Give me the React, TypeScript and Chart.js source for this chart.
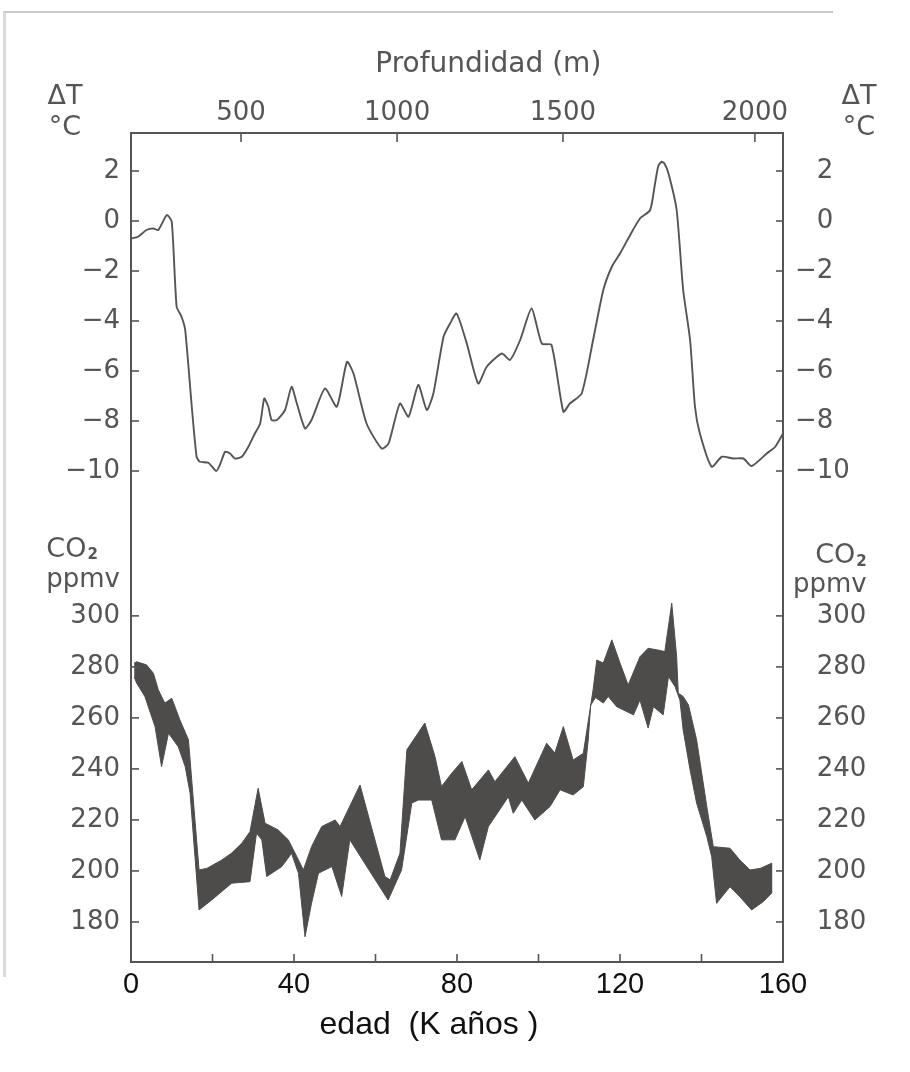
import React, { useEffect, useRef } from 'react';
import { Chart, registerables } from 'chart.js';

Chart.register(...registerables);

// ---- data (age in thousands of years) ----
const tempAge = [0, 1.7, 3.8, 5.5, 6.7, 8.8, 10.0, 11.2, 12.4, 13.3, 14.9, 16.1, 16.9, 19.0, 20.9, 21.8, 23.1, 24.3, 25.5, 27.2, 28.8, 30.4, 31.7, 32.7, 33.7, 34.5, 35.8, 37.8, 39.4, 40.7, 42.7, 44.3, 47.6, 50.5, 53.0, 54.6, 57.8, 61.5, 63.2, 66.0, 68.1, 70.5, 72.6, 74.2, 76.7, 78.3, 79.9, 82.4, 85.2, 87.3, 91.0, 93.0, 95.5, 98.3, 100.8, 103.2, 106.1, 107.7, 110.6, 113.4, 115.9, 118.0, 120.0, 122.5, 124.9, 127.4, 128.6, 129.4, 130.2, 130.9, 131.9, 133.9, 135.5, 137.2, 138.4, 139.6, 142.5, 145.0, 147.8, 150.3, 152.3, 156.0, 158.1, 160];
const tempVal = [-0.7, -0.63, -0.36, -0.3, -0.36, 0.24, -0.03, -3.43, -3.83, -4.36, -7.4, -9.43, -9.63, -9.67, -10.0, -9.76, -9.23, -9.3, -9.5, -9.43, -9.03, -8.5, -8.1, -7.1, -7.43, -7.96, -7.96, -7.56, -6.63, -7.3, -8.3, -7.96, -6.7, -7.43, -5.63, -6.1, -8.1, -9.1, -8.9, -7.3, -7.83, -6.56, -7.56, -6.9, -4.63, -4.1, -3.7, -4.9, -6.5, -5.83, -5.3, -5.56, -4.76, -3.5, -4.9, -4.96, -7.63, -7.3, -6.9, -4.76, -2.76, -1.83, -1.3, -0.56, 0.1, 0.44, 1.5, 2.2, 2.37, 2.3, 1.9, 0.44, -2.76, -4.76, -7.43, -8.5, -9.83, -9.43, -9.5, -9.5, -9.8, -9.3, -9.03, -8.5];

const co2UpperAge = [0.8, 1.4, 3.8, 5.5, 6.7, 8.3, 10.0, 12.0, 14.1, 14.9, 16.1, 16.7, 18.6, 22.3, 24.7, 27.2, 29.2, 31.2, 32.9, 36.1, 38.6, 40.7, 42.3, 44.3, 46.8, 50.1, 51.3, 56.2, 62.3, 63.6, 66.0, 67.7, 72.1, 74.6, 76.2, 78.7, 81.2, 83.6, 87.7, 89.3, 94.2, 97.5, 102.0, 104.0, 106.1, 108.5, 111.0, 113.4, 114.3, 115.9, 118.0, 120.0, 122.0, 124.9, 126.9, 129.0, 131.0, 132.7, 133.9, 134.3, 135.5, 136.8, 138.8, 141.3, 142.9, 147.0, 149.4, 151.9, 154.4, 157.2];
const co2Upper = [281.5, 282, 280.8, 277.5, 271, 265.8, 267.7, 259.2, 251.4, 235.7, 212, 200.4, 201, 204.3, 207, 210.9, 215.4, 232.4, 218.7, 216.1, 212.2, 205.6, 200.4, 209.5, 217.4, 220, 217.4, 233.7, 197.8, 196.5, 206.9, 247.5, 258, 244.8, 233.1, 238.3, 242.9, 231.8, 239.6, 235, 244.8, 234.4, 250.1, 246.2, 256.6, 243.5, 246.1, 271, 282.7, 281.5, 290.6, 281.5, 272.9, 284, 287.3, 286.7, 286, 305, 284, 269.7, 268.4, 265.1, 251.4, 225.2, 209.5, 208.9, 204.3, 200.4, 201, 203];

const co2LowerAge = [0.8, 1.4, 3.4, 5.9, 7.5, 9.2, 11.6, 13.3, 14.5, 15.7, 16.7, 19.8, 24.7, 29.2, 30.8, 32.1, 33.3, 37.0, 39.4, 41.1, 42.7, 44.3, 46.0, 49.3, 51.7, 53.7, 63.1, 66.4, 68.9, 70.5, 73.8, 76.2, 79.5, 82.0, 85.6, 87.7, 92.6, 93.8, 95.9, 99.1, 102.8, 105.3, 108.5, 111.0, 112.2, 112.8, 114.0, 115.9, 117.1, 119.2, 123.3, 124.9, 126.9, 128.2, 130.6, 131.9, 133.5, 134.7, 135.5, 137.2, 138.8, 141.3, 142.5, 143.7, 147.0, 149.4, 152.3, 155.2, 157.2];
const co2Lower = [276, 273.6, 268.4, 256.6, 240.9, 254, 248.7, 240.9, 230.5, 205.6, 184.7, 188.6, 195.2, 195.8, 214.8, 212.2, 197.8, 201.7, 206.9, 199.1, 174.2, 187.3, 199.1, 201.7, 190, 212.2, 188.6, 200.4, 226.6, 227.8, 227.8, 212.2, 212.2, 221.3, 204.3, 217.4, 229.1, 222.6, 227.8, 220, 225.2, 231.8, 229.8, 233, 251.4, 265, 268, 265.8, 268.4, 264.4, 261.2, 267, 256, 264.4, 261.2, 276.2, 272.3, 267, 255.3, 239.6, 226.6, 213.5, 205.6, 187.3, 193.8, 189.9, 184.7, 188, 191.3];

// ---- axes / ticks ----
const ageTicks = [0, 20, 40, 60, 80, 100, 120, 140, 160];
const ageLabels = [0, 40, 80, 120, 160];
const depthLabels = [500, 1000, 1500, 2000];
const depthAges = [27.0, 65.3, 106.0, 153.1];
const tempTicks = [-10, -8, -6, -4, -2, 0, 2];
const co2Ticks = [180, 200, 220, 240, 260, 280, 300];
const tempRange = [-12, 3.52];
const co2Range = [164.3, 337.2];
const ageRange = [0, 160];

const FONT = '"DejaVu Sans", Verdana, sans-serif';
const FONT_B = '"Liberation Sans", Arial, Helvetica, sans-serif';
const GRAY = '#565454';
const BAND = '#4e4b4b';

const W = 894;
const H = 1056;

function minusLabel(v: number, pad: boolean) {
  if (v < 0) return '\u2212' + Math.abs(v);
  return (pad ? '\u2007\u2009' : '') + String(v);
}

function yAxis(position: 'left' | 'right', range: number[], ticks: number[], weight: number, stack: string, width: number) {
  return {
    type: 'linear',
    position,
    stack,
    stackWeight: weight,
    min: range[0],
    max: range[1],
    grid: { display: false, drawTicks: false },
    border: { display: true, color: GRAY, width: 2 },
    afterBuildTicks: (scale: any) => {
      scale.ticks = ticks.map((v) => ({ value: v }));
    },
    afterFit: (scale: any) => {
      scale.width = width;
    },
    ticks: {
      autoSkip: false,
      padding: position === 'left' ? 11 : 12,
      color: GRAY,
      font: { family: FONT, size: 26 },
      callback: (v: number) => minusLabel(v, position === 'right'),
    },
  };
}

const decorPlugin = {
  id: 'decor',
  afterDraw(chart: any) {
    const { ctx, chartArea: ca, scales } = chart;
    ctx.save();
    ctx.strokeStyle = GRAY;
    ctx.lineWidth = 1.6;
    const seg = (x1: number, y1: number, x2: number, y2: number) => {
      ctx.beginPath();
      ctx.moveTo(x1, y1);
      ctx.lineTo(x2, y2);
      ctx.stroke();
    };
    for (const id of ['tL', 'cL']) {
      for (const t of scales[id].ticks) {
        const y = scales[id].getPixelForValue(t.value);
        seg(ca.left, y, ca.left + 8, y);
      }
    }
    for (const id of ['tR', 'cR']) {
      for (const t of scales[id].ticks) {
        const y = scales[id].getPixelForValue(t.value);
        seg(ca.right - 7, y, ca.right, y);
      }
    }
    for (const t of scales.x.ticks) {
      const x = scales.x.getPixelForValue(t.value);
      seg(x, ca.bottom, x, ca.bottom - 8);
    }
    for (const t of scales.x2.ticks) {
      const x = scales.x2.getPixelForValue(t.value);
      seg(x, ca.top, x, ca.top + 9);
    }

    const w = ca.right - ca.left;
    ctx.textBaseline = 'middle';
    ctx.fillStyle = GRAY;
    ctx.font = `28px ${FONT}`;
    ctx.textAlign = 'center';
    ctx.fillText('Profundidad (m)', ca.left + 0.548 * w, ca.top - 68);
    ctx.font = `27px ${FONT}`;
    ctx.fillText('\u0394T', ca.left - 66, ca.top - 36);
    ctx.fillText('\u00B0C', ca.left - 66, ca.top - 5);
    ctx.fillText('\u0394T', ca.right + 76, ca.top - 36);
    ctx.fillText('\u00B0C', ca.right + 76, ca.top - 5);

    // CO2 / ppmv labels
    const drawCO2 = (xLeft: number, yMid: number) => {
      ctx.font = `27px ${FONT}`;
      ctx.textAlign = 'left';
      ctx.fillText('CO', xLeft, yMid);
      const wCO = ctx.measureText('CO').width;
      ctx.font = `bold 15px ${FONT}`;
      ctx.fillText('2', xLeft + wCO + 1, yMid + 6);
    };
    const co2Width = () => {
      ctx.font = `27px ${FONT}`;
      const a = ctx.measureText('CO').width;
      ctx.font = `bold 15px ${FONT}`;
      return a + 1 + ctx.measureText('2').width;
    };
    ctx.font = `26px ${FONT}`;
    const wPpmv = ctx.measureText('ppmv').width;
    // left
    const lx = ca.left - 11 - wPpmv;
    ctx.textAlign = 'left';
    ctx.fillText('ppmv', lx, scales.cL.getPixelForValue(314));
    drawCO2(lx, scales.cL.getPixelForValue(326));
    // right
    const rx = ca.right + 10;
    ctx.font = `26px ${FONT}`;
    ctx.textAlign = 'left';
    ctx.fillText('ppmv', rx, scales.cR.getPixelForValue(312));
    drawCO2(rx + wPpmv - co2Width(), scales.cR.getPixelForValue(323.5));

    ctx.font = `32px ${FONT_B}`;
    ctx.fillStyle = '#111';
    ctx.textAlign = 'center';
    ctx.fillText('edad  (K a\u00F1os )', ca.left + 0.457 * w, ca.bottom + 63);
    ctx.restore();
  },
};

export default function App() {
  const ref = useRef<HTMLCanvasElement | null>(null);

  useEffect(() => {
    if (!ref.current) return;
    const tempData = tempAge.map((a, i) => ({ x: a, y: tempVal[i] }));
    const upper = co2UpperAge.map((a, i) => ({ x: a, y: co2Upper[i] }));
    const lower = co2LowerAge.map((a, i) => ({ x: a, y: co2Lower[i] })).reverse();
    const band = upper.concat(lower);

    const chart = new Chart(ref.current, {
      type: 'line',
      data: {
        datasets: [
          {
            data: tempData,
            xAxisID: 'x',
            yAxisID: 'tL',
            borderColor: GRAY,
            borderWidth: 1.9,
            pointRadius: 0,
            tension: 0.2,
            fill: false,
          },
          {
            data: band,
            xAxisID: 'x',
            yAxisID: 'cL',
            borderColor: BAND,
            backgroundColor: BAND,
            borderWidth: 1,
            pointRadius: 0,
            tension: 0,
            fill: 'shape',
          },
        ],
      },
      options: {
        animation: false,
        responsive: false,
        devicePixelRatio: 1,
        layout: { padding: 0 },
        plugins: { legend: { display: false }, tooltip: { enabled: false } },
        scales: {
          x: {
            type: 'linear',
            position: 'bottom',
            min: ageRange[0],
            max: ageRange[1],
            grid: { display: false, drawTicks: false },
            border: { display: true, color: GRAY, width: 2 },
            afterBuildTicks: (scale: any) => {
              scale.ticks = ageTicks.map((v) => ({ value: v }));
            },
            afterFit: (scale: any) => {
              scale.height = 102;
            },
            ticks: {
              autoSkip: false,
              maxRotation: 0,
              padding: 6,
              color: '#111',
              font: { family: FONT_B, size: 29 },
              callback: (v: number) => (ageLabels.includes(v) ? String(v) : ''),
            },
          },
          x2: {
            type: 'linear',
            position: 'top',
            min: ageRange[0],
            max: ageRange[1],
            grid: { display: false, drawTicks: false },
            border: { display: true, color: GRAY, width: 2 },
            afterBuildTicks: (scale: any) => {
              scale.ticks = depthAges.map((v) => ({ value: v }));
            },
            afterFit: (scale: any) => {
              scale.height = 125;
            },
            ticks: {
              autoSkip: false,
              maxRotation: 0,
              padding: 4,
              color: GRAY,
              font: { family: FONT, size: 26 },
              callback: (_v: number, i: number) => String(depthLabels[i]),
            },
          },
          cL: yAxis('left', co2Range, co2Ticks, 441, 'L', 123),
          tL: yAxis('left', tempRange, tempTicks, 388, 'L', 123),
          tR: yAxis('right', tempRange, tempTicks, 388, 'R', 119),
          cR: yAxis('right', co2Range, co2Ticks, 441, 'R', 119),
        },
      } as any,
      plugins: [decorPlugin],
    });
    return () => chart.destroy();
  }, []);

  return (
    <div style={{ position: 'relative', width: W, height: H }}>
      <div
        style={{
          position: 'fixed',
          left: 3,
          top: 11,
          width: 827,
          height: 964,
          borderTop: '2px solid #c9c9c9',
          borderLeft: '3px solid #dadada',
          pointerEvents: 'none',
        }}
      />
      <canvas ref={ref} width={W} height={H} style={{ display: 'block', width: W, height: H }} />
    </div>
  );
}
